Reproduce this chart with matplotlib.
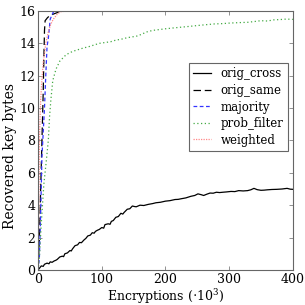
import matplotlib
matplotlib.use("Agg")
import matplotlib.pyplot as plt

plt.rcParams['font.family'] = ['DejaVu Serif']
plt.rcParams['mathtext.fontset'] = 'dejavuserif'

# encryptions (x 10^3) and recovered key bytes per method
cross_x = [0, 2, 5, 8, 10, 14, 17, 19, 22, 25, 28, 30, 34, 38, 40, 42, 46, 50, 52, 54, 58, 62, 65,
           68, 72, 75, 78, 82, 85, 88, 90, 93, 96, 100, 103, 105, 110, 113, 115, 118, 122, 126, 130,
           133, 135, 140, 144, 148, 151, 154, 160, 166, 173, 180, 185, 192, 200, 207, 215, 220, 225,
           232, 240, 246, 251, 256, 260, 265, 270, 275, 280, 285, 290, 296, 303, 309, 315, 322, 329,
           334, 339, 344, 350, 355, 360, 367, 375, 383, 391, 396, 400]
cross_y = [0.0, 0.1, 0.25, 0.22, 0.35, 0.42, 0.38, 0.5, 0.47, 0.55, 0.6, 0.65, 0.8, 0.85, 0.82, 1.0,
           1.05, 1.2, 1.17, 1.3, 1.5, 1.55, 1.7, 1.68, 1.85, 1.95, 2.1, 2.15, 2.3, 2.27, 2.38, 2.45,
           2.5, 2.62, 2.58, 2.8, 2.85, 2.82, 3.0, 3.05, 3.25, 3.3, 3.5, 3.45, 3.55, 3.75, 3.78, 3.95,
           3.92, 3.9, 4.0, 3.98, 4.05, 4.1, 4.15, 4.18, 4.25, 4.28, 4.35, 4.36, 4.4, 4.45, 4.55, 4.6,
           4.7, 4.65, 4.6, 4.68, 4.75, 4.74, 4.8, 4.78, 4.8, 4.82, 4.85, 4.84, 4.9, 4.88, 4.9, 4.95,
           5.04, 4.96, 4.92, 4.93, 4.95, 4.97, 4.98, 5.0, 5.04, 4.99, 4.98]

same_x = [0, 2, 4, 6, 8, 9, 10, 11, 15, 20, 30, 40, 400]
same_y = [0.0, 2.0, 5.0, 8.0, 11.0, 13.0, 14.8, 15.4, 15.6, 15.75, 15.9, 16.0, 16.0]

maj_x = [0, 2, 4, 6, 8, 10, 12, 14, 16, 19, 24, 30, 400]
maj_y = [0.0, 0.8, 3.5, 7.0, 8.5, 10.0, 12.0, 13.8, 14.3, 15.5, 15.95, 16.0, 16.0]

prob_x = [0, 2, 5, 9, 13, 16, 18, 20, 23, 28, 34, 44, 54, 62, 70, 80, 88, 96, 105, 114, 122, 130,
          140, 148, 155, 162, 170, 180, 190, 200, 212, 225, 238, 250, 263, 277, 290, 300, 315, 329,
          340, 350, 360, 370, 380, 390, 400]
prob_y = [0.0, 0.8, 2.9, 5.3, 6.8, 8.0, 9.5, 10.5, 11.7, 12.4, 12.9, 13.3, 13.5, 13.6, 13.7, 13.8,
          13.9, 14.0, 14.05, 14.1, 14.2, 14.25, 14.35, 14.4, 14.45, 14.55, 14.7, 14.8, 14.85, 14.9,
          14.95, 15.0, 15.05, 15.1, 15.15, 15.2, 15.22, 15.25, 15.28, 15.3, 15.35, 15.4, 15.38, 15.45,
          15.47, 15.5, 15.48]

wt_x = [0, 1, 2, 4, 6, 8, 12, 16, 20, 24, 30, 35, 45, 400]
wt_y = [0.0, 4.0, 8.0, 10.5, 11.8, 12.8, 14.0, 14.7, 15.2, 15.5, 15.8, 15.95, 16.0, 16.0]

fig = plt.figure(figsize=(3.05, 3.05), dpi=100)
ax = fig.add_axes([0.125, 0.115, 0.835, 0.849])

ax.plot(cross_x, cross_y, color='black', lw=0.9, label='orig_cross')
ax.plot(same_x, same_y, color='black', lw=0.9, ls=(0, (6, 3)), label='orig_same')
ax.plot(maj_x, maj_y, color='#3333ff', lw=0.9, ls=(0, (3, 2)), label='majority')
ax.plot(prob_x, prob_y, color='#44aa44', lw=0.9, ls=(0, (1, 2)), label='prob_filter')
ax.plot(wt_x, wt_y, color='#ff8888', lw=0.9, ls=(0, (1, 1)), label='weighted')

ax.set_xlim(0, 400)
ax.set_ylim(0, 16)
ax.set_xticks([0, 100, 200, 300, 400])
ax.set_yticks(range(0, 17, 2))
ax.tick_params(direction='in', top=True, right=True, labelsize=9, length=3, width=0.5,
               color='0.4', pad=2)
for s in ax.spines.values():
    s.set_color('0.4')
    s.set_linewidth(0.8)

ax.set_xlabel(r'Encryptions $(\cdot 10^3)$', fontsize=9, labelpad=1)
ax.set_ylabel('Recovered key bytes', fontsize=10)
ax.yaxis.set_label_coords(-0.082, 0.44)

leg = ax.legend(loc='upper right', bbox_to_anchor=(1.005, 0.823), fontsize=8.5, fancybox=False,
                framealpha=1, handlelength=1.5, handletextpad=0.8, borderpad=0.4,
                labelspacing=0.3)
leg.get_frame().set_edgecolor('0.4')
leg.get_frame().set_linewidth(0.8)

fig.savefig('out.png', dpi=100)
